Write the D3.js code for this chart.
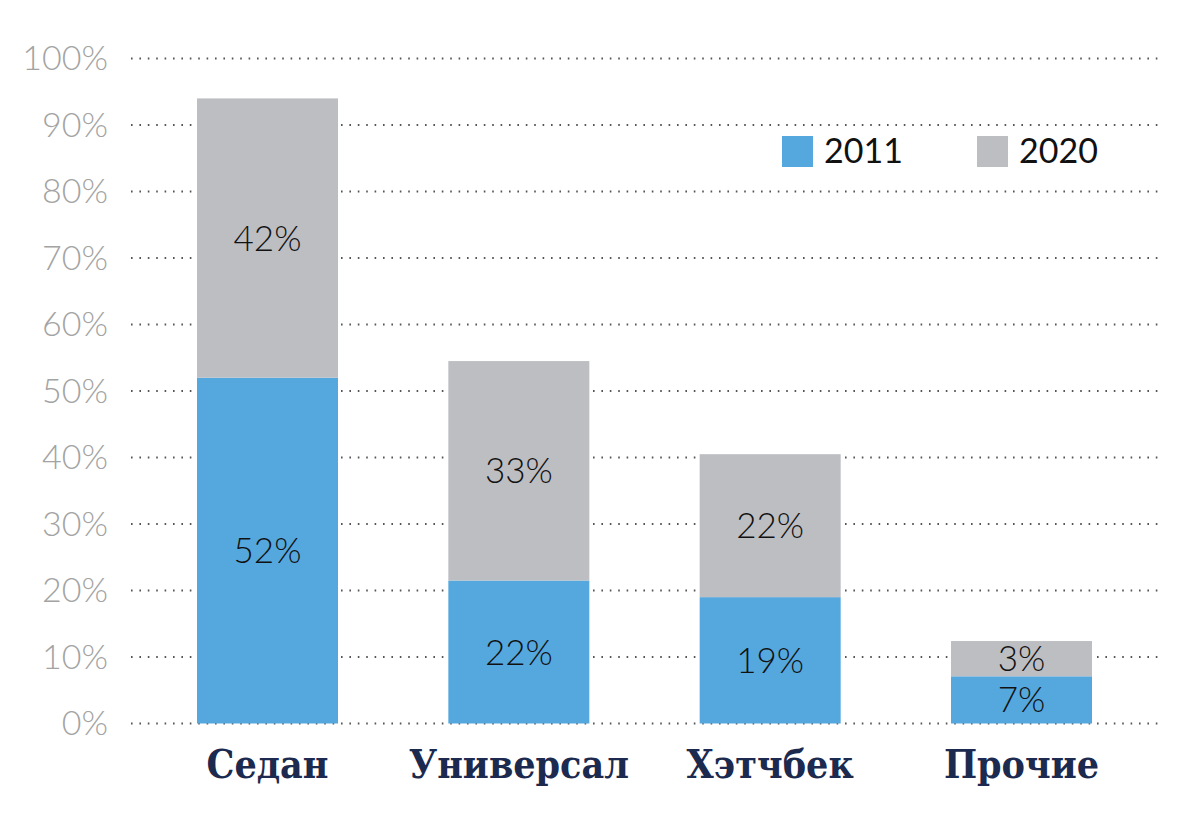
<!DOCTYPE html>
<html><head><meta charset="utf-8">
<script src="https://cdn.jsdelivr.net/npm/d3@7"></script>
<style>body{margin:0;background:#fff}svg{display:block}</style>
</head><body>
<svg id="c" width="1200" height="814"></svg>
<script>
const categories = ["Седан", "Универсал", "Хэтчбек", "Прочие"];
const values2011 = [52, 21.5, 19, 7.1];
const values2020 = [42, 33, 21.5, 5.3];
const labels2011 = ["52%", "22%", "19%", "7%"];
const labels2020 = ["42%", "33%", "22%", "3%"];
const seriesNames = ["2011", "2020"];
const yTicks = [0, 10, 20, 30, 40, 50, 60, 70, 80, 90, 100];

const colors = {"2011": "#55A8DE", "2020": "#BDBEC2"};
const svg = d3.select("#c");
const x = d3.scaleBand().domain(categories).range([197, 1092]).paddingInner(0.439).paddingOuter(0);
const y = d3.scaleLinear().domain([0, 100]).range([723.5, 58.5]);

// grid
const grid = svg.append("g");
yTicks.forEach(t => {
  grid.append("line").attr("x1", 131).attr("x2", 1160).attr("y1", y(t)).attr("y2", y(t))
    .attr("stroke", "#555").attr("stroke-width", 2).attr("stroke-dasharray", "1.6 6.8").attr("stroke-linecap","butt");
});
// y axis labels
const yAxis = d3.axisLeft(y).tickValues(yTicks).tickFormat(d => d + "%").tickSize(0).tickPadding(0);
const ya = svg.append("g").attr("transform", "translate(108,0)").call(yAxis);
ya.select(".domain").remove();
ya.selectAll("text").attr("fill", "#A3A3A3").style("font-family", "Lato").style("font-weight", 300).style("font-size", "34px").attr("dy", "0.33em");

// bars
const stack = categories.map((c, i) => ({c, a: values2011[i], b: values2020[i], la: labels2011[i], lb: labels2020[i]}));
const g = svg.append("g");
g.selectAll("rect.a").data(stack).join("rect").attr("class","a").attr("x", d => x(d.c)).attr("width", x.bandwidth())
  .attr("y", d => y(d.a)).attr("height", d => y(0) - y(d.a)).attr("fill", colors["2011"]);
g.selectAll("rect.b").data(stack).join("rect").attr("class","b").attr("x", d => x(d.c)).attr("width", x.bandwidth())
  .attr("y", d => y(d.a + d.b)).attr("height", d => y(d.a) - y(d.a + d.b)).attr("fill", colors["2020"]);

const lblStyle = s => s.attr("text-anchor", "middle").attr("dy", "0.36em").attr("fill", "#111")
  .style("font-family", "Lato").style("font-weight", 300).style("font-size", "35px");
g.selectAll("text.la").data(stack).join("text").attr("class","la")
  .attr("x", d => x(d.c) + x.bandwidth()/2).attr("y", d => y(d.a/2)).text(d => d.la).call(lblStyle);
g.selectAll("text.lb").data(stack).join("text").attr("class","lb")
  .attr("x", d => x(d.c) + x.bandwidth()/2).attr("y", d => y(d.a + d.b/2)).text(d => d.lb).call(lblStyle);

// x axis labels
const xAxis = d3.axisBottom(x).tickSize(0).tickPadding(0);
const xa = svg.append("g").attr("transform", "translate(0,778)").call(xAxis);
xa.select(".domain").remove();
xa.selectAll("text").attr("dy", 0).attr("fill", "#1B2A4E").style("font-family", "DejaVu Serif")
  .style("font-weight", 700).style("font-stretch", "condensed").style("font-size", "39px");

// legend
const leg = svg.append("g");
const legX = [782, 977];
seriesNames.forEach((s, i) => {
  leg.append("rect").attr("x", legX[i]).attr("y", 136).attr("width", 31).attr("height", 31).attr("fill", colors[s]);
  leg.append("text").attr("x", legX[i] + 42).attr("y", 163).text(s).attr("fill", "#111")
    .style("font-family", "Lato").style("font-size", "34px");
});
</script>
</body></html>
